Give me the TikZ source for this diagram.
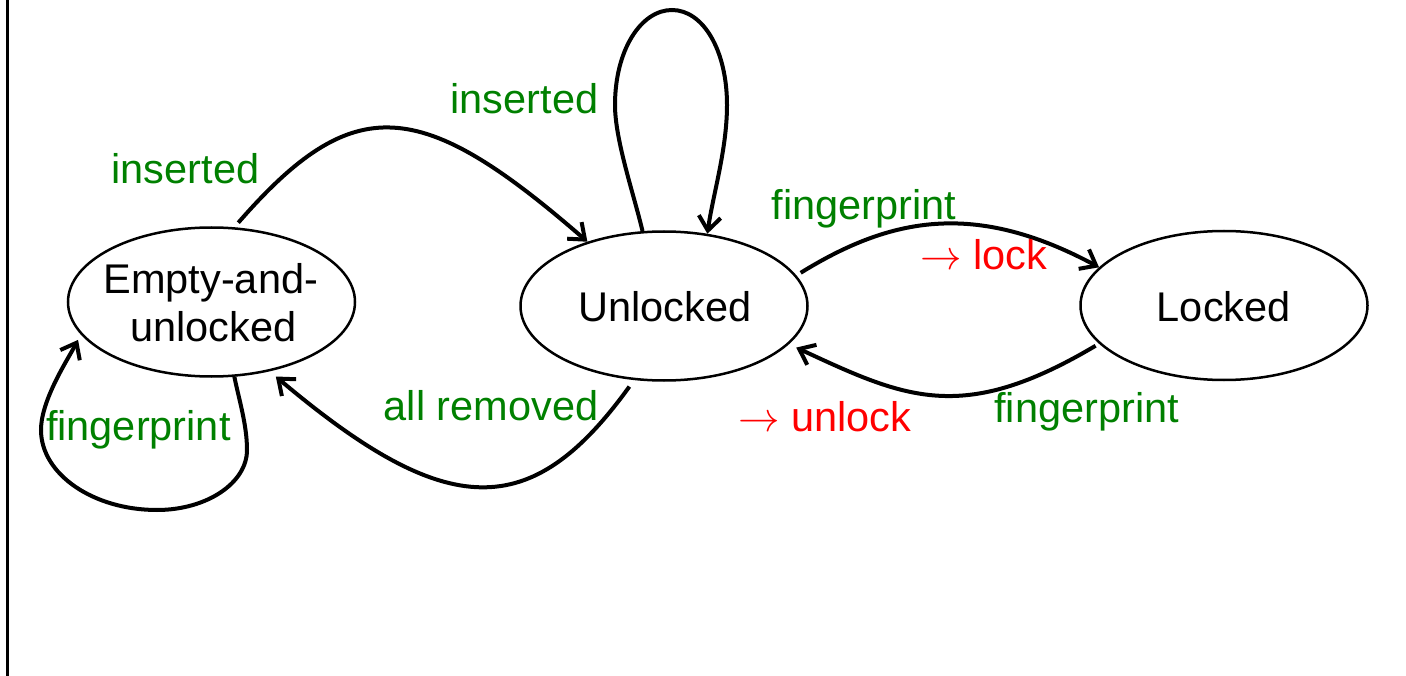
\RequirePackage{fix-cm}
\documentclass[tikz,border=0pt]{standalone}
\usepackage{fontspec}
\setmainfont{Liberation Sans}
\usetikzlibrary{arrows.meta,shapes.geometric}
\definecolor{lblgreen}{RGB}{0,128,0}
\definecolor{lblred}{RGB}{255,0,0}
\begin{document}
\begin{tikzpicture}[x=1pt,y=-1pt,
  statebox/.style={ellipse,draw,line width=2.5pt,minimum width=287pt,minimum height=149pt,inner sep=0pt},
  txt/.style={font=\fontsize{41.5}{48}\selectfont,inner sep=0pt,anchor=base},
  lbl/.style={txt,text=lblgreen},
  act/.style={txt,text=lblred},
  edgeline/.style={line width=4pt,-{Straight Barb[length=14pt,width=22pt]}}
]
\useasboundingbox (0,0) rectangle (1406,676);
\draw[line width=3pt] (7.5,0) -- (7.5,676);

% states
\node[statebox] (E) at (211.5,302) {};
\node[statebox] (U) at (664,306) {};
\node[statebox] (L) at (1224,305.5) {};
\node[txt] (Et1) at (210.8,293.3) {Empty-and-};
\node[txt] (Et2) at (213.3,341.7) {unlocked};
\node[txt] (Ut) at (665,321.7) {Unlocked};
\node[txt] (Lt) at (1223.8,321.7) {Locked};

% waypoints of loops
\coordinate (Uleft) at (615,105);
\coordinate (Utop) at (672,10);
\coordinate (Uright) at (727,105);
\coordinate (Eright) at (247,450);
\coordinate (Ebot) at (157,510);
\coordinate (Eleft) at (41,430);

% edges
\draw[edgeline,shorten <=6pt] (E.73) .. controls (353.5,90.4) and (420.2,96.2) .. (U.140);
\draw[edgeline] (U.106) .. controls (633.8,194.2) and (615,140) .. (Uleft)
                       .. controls (615,50) and (641,10) .. (Utop)
                       .. controls (703,10) and (727,50) .. (Uright)
                       .. controls (727,150) and (712.7,195.4) .. (U.59);
\draw[edgeline,shorten <=5pt] (U.13) .. controls (891,217) and (975,200.7) .. (L.163);
\draw[edgeline,shorten <=4pt,shorten >=8pt] (L.197) .. controls (962,425) and (905.5,398.3) .. (U.343);
\draw[edgeline,shorten <=8pt,shorten >=8pt] (U.248) .. controls (531,523) and (447,521) .. (E.310);
\draw[edgeline,shorten >=6pt] (E.287) .. controls (239.2,400.4) and (247,425) .. (Eright)
                       .. controls (247,483) and (206.7,510) .. (Ebot)
                       .. controls (93,510) and (41,474) .. (Eleft)
                       .. controls (41,400) and (67.6,359.8) .. (E.194);

% labels
\node[lbl] (l1) at (185.5,183.3) {inserted};
\node[lbl] (l2) at (524.5,113.3) {inserted};
\node[lbl] (l3) at (864,220) {fingerprint};
\node[act] (l4) at (984,269.3) {$\rightarrow$ lock};
\node[lbl] (l5) at (1086.7,422.7) {fingerprint};
\node[act] (l6) at (824.7,431.7) {$\rightarrow$ unlock};
\node[lbl] (l7) at (491,420) {all removed};
\node[lbl] (l8) at (138.3,440) {fingerprint};
\end{tikzpicture}
\end{document}
